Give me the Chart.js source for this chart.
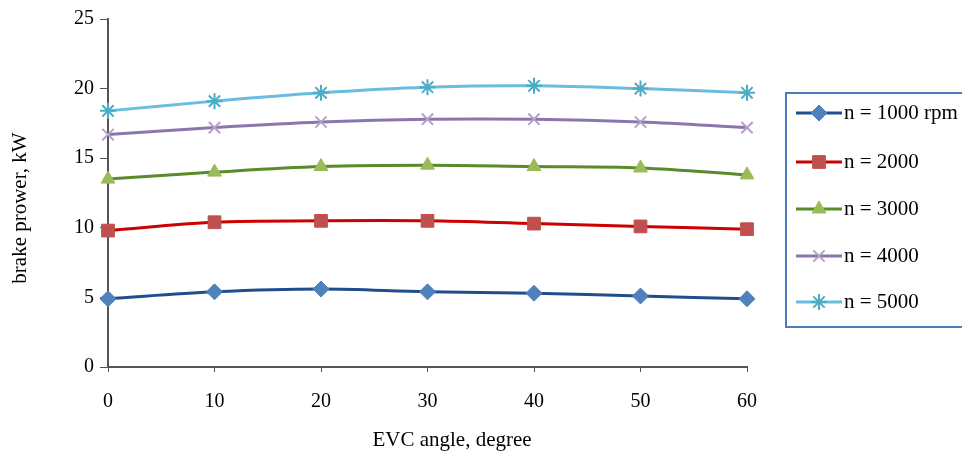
<!DOCTYPE html>
<html>
<head>
<meta charset="utf-8">
<script src="https://cdn.jsdelivr.net/npm/chart.js@4"></script>
<style>
  html, body { margin: 0; padding: 0; background: #fff; }
  #wrap { width: 962px; height: 454px; position: relative; }
</style>
</head>
<body>
<div id="wrap"><canvas id="chart"></canvas></div>
<script>
// EVC angle (degree)
const angles = [0, 10, 20, 30, 40, 50, 60];

// brake power (kW) for each engine speed
const n1000 = [4.9, 5.4, 5.6, 5.4, 5.3, 5.1, 4.9];
const n2000 = [9.8, 10.4, 10.5, 10.5, 10.3, 10.1, 9.9];
const n3000 = [13.5, 14.0, 14.4, 14.5, 14.4, 14.3, 13.8];
const n4000 = [16.7, 17.2, 17.6, 17.8, 17.8, 17.6, 17.2];
const n5000 = [18.4, 19.1, 19.7, 20.1, 20.2, 20.0, 19.7];

const seriesLabels = ['n = 1000 rpm', 'n = 2000', 'n = 3000', 'n = 4000', 'n = 5000'];
const xTitle = 'EVC angle, degree';
const yTitle = 'brake prower, kW';

const font = 'Liberation Serif, Times New Roman, serif';

function pts(vals) {
    return angles.map((a, i) => ({ x: a, y: vals[i] }));
}

function series(label, vals, line, fill, style, radius) {
    return {
        label: label,
        data: pts(vals),
        borderColor: line,
        borderWidth: 3,
        backgroundColor: fill,
        pointBackgroundColor: fill,
        pointBorderColor: fill,
        pointBorderWidth: style === 'crossRot' || style === 'star' ? 2 : 1,
        pointStyle: style,
        pointRadius: radius,
        tension: 0.35,
        fill: false,
        clip: false
    };
}

// Axis titles and boxed legend, placed like the original
const extras = {
    id: 'extras',
    afterDraw(chart) {
        const ctx = chart.ctx;
        ctx.save();
        ctx.fillStyle = '#000';
        ctx.font = '21px ' + font;
        ctx.textAlign = 'center';
        ctx.textBaseline = 'middle';
        ctx.fillText(xTitle, 452, 440);
        ctx.translate(20, 208);
        ctx.rotate(-Math.PI / 2);
        ctx.fillText(yTitle, 0, 0);
        ctx.restore();

        ctx.save();
        ctx.strokeStyle = '#4a7ebb';
        ctx.lineWidth = 2;
        ctx.strokeRect(786, 93, 180, 234);
        const rows = [113, 162, 209, 256, 302];
        chart.data.datasets.forEach((ds, i) => {
            const y = rows[i];
            ctx.strokeStyle = ds.borderColor;
            ctx.lineWidth = 3;
            ctx.beginPath();
            ctx.moveTo(796, y);
            ctx.lineTo(842, y);
            ctx.stroke();
            ctx.fillStyle = ds.pointBackgroundColor;
            ctx.strokeStyle = ds.pointBorderColor;
            ctx.lineWidth = ds.pointBorderWidth;
            Chart.helpers.drawPoint(ctx, {
                pointStyle: ds.pointStyle,
                radius: ds.pointRadius,
                borderWidth: ds.pointBorderWidth,
                rotation: 0
            }, 819, y);
            ctx.fillStyle = '#000';
            ctx.font = '21px ' + font;
            ctx.textBaseline = 'middle';
            ctx.textAlign = 'left';
            ctx.fillText(ds.label, 844, y);
        });
        ctx.restore();
    }
};

const ctx = document.getElementById('chart').getContext('2d');
new Chart(ctx, {
    type: 'line',
    data: {
        datasets: [
            series(seriesLabels[0], n1000, '#1f4e8c', '#4f81bd', 'rectRot', 8),
            series(seriesLabels[1], n2000, '#cc0000', '#c0504d', 'rect', 9),
            series(seriesLabels[2], n3000, '#5a8a2a', '#9bbb59', 'triangle', 8),
            series(seriesLabels[3], n4000, '#8a76ad', '#b3a2c7', 'crossRot', 8),
            series(seriesLabels[4], n5000, '#6bbde0', '#4bacc6', 'star', 8)
        ]
    },
    options: {
        responsive: true,
        maintainAspectRatio: false,
        animation: false,
        layout: { padding: { top: 19, right: 215, left: 0, bottom: 0 } },
        plugins: { legend: { display: false }, tooltip: { enabled: false } },
        scales: {
            x: {
                type: 'linear',
                min: 0, max: 60,
                ticks: { stepSize: 10, color: '#000', font: { family: font, size: 20 }, padding: 18 },
                grid: { drawOnChartArea: false, drawTicks: true, tickLength: 5, color: '#555' },
                border: { color: '#555', width: 2 },
                afterFit(scale) { scale.height = 87; }
            },
            y: {
                min: 0, max: 25,
                ticks: { stepSize: 5, color: '#000', font: { family: font, size: 20 }, padding: 6 },
                grid: { drawOnChartArea: false, drawTicks: true, tickLength: 8, color: '#555' },
                border: { color: '#555', width: 2 },
                afterFit(scale) { scale.width = 108; }
            }
        }
    },
    plugins: [extras]
});
</script>
</body>
</html>
